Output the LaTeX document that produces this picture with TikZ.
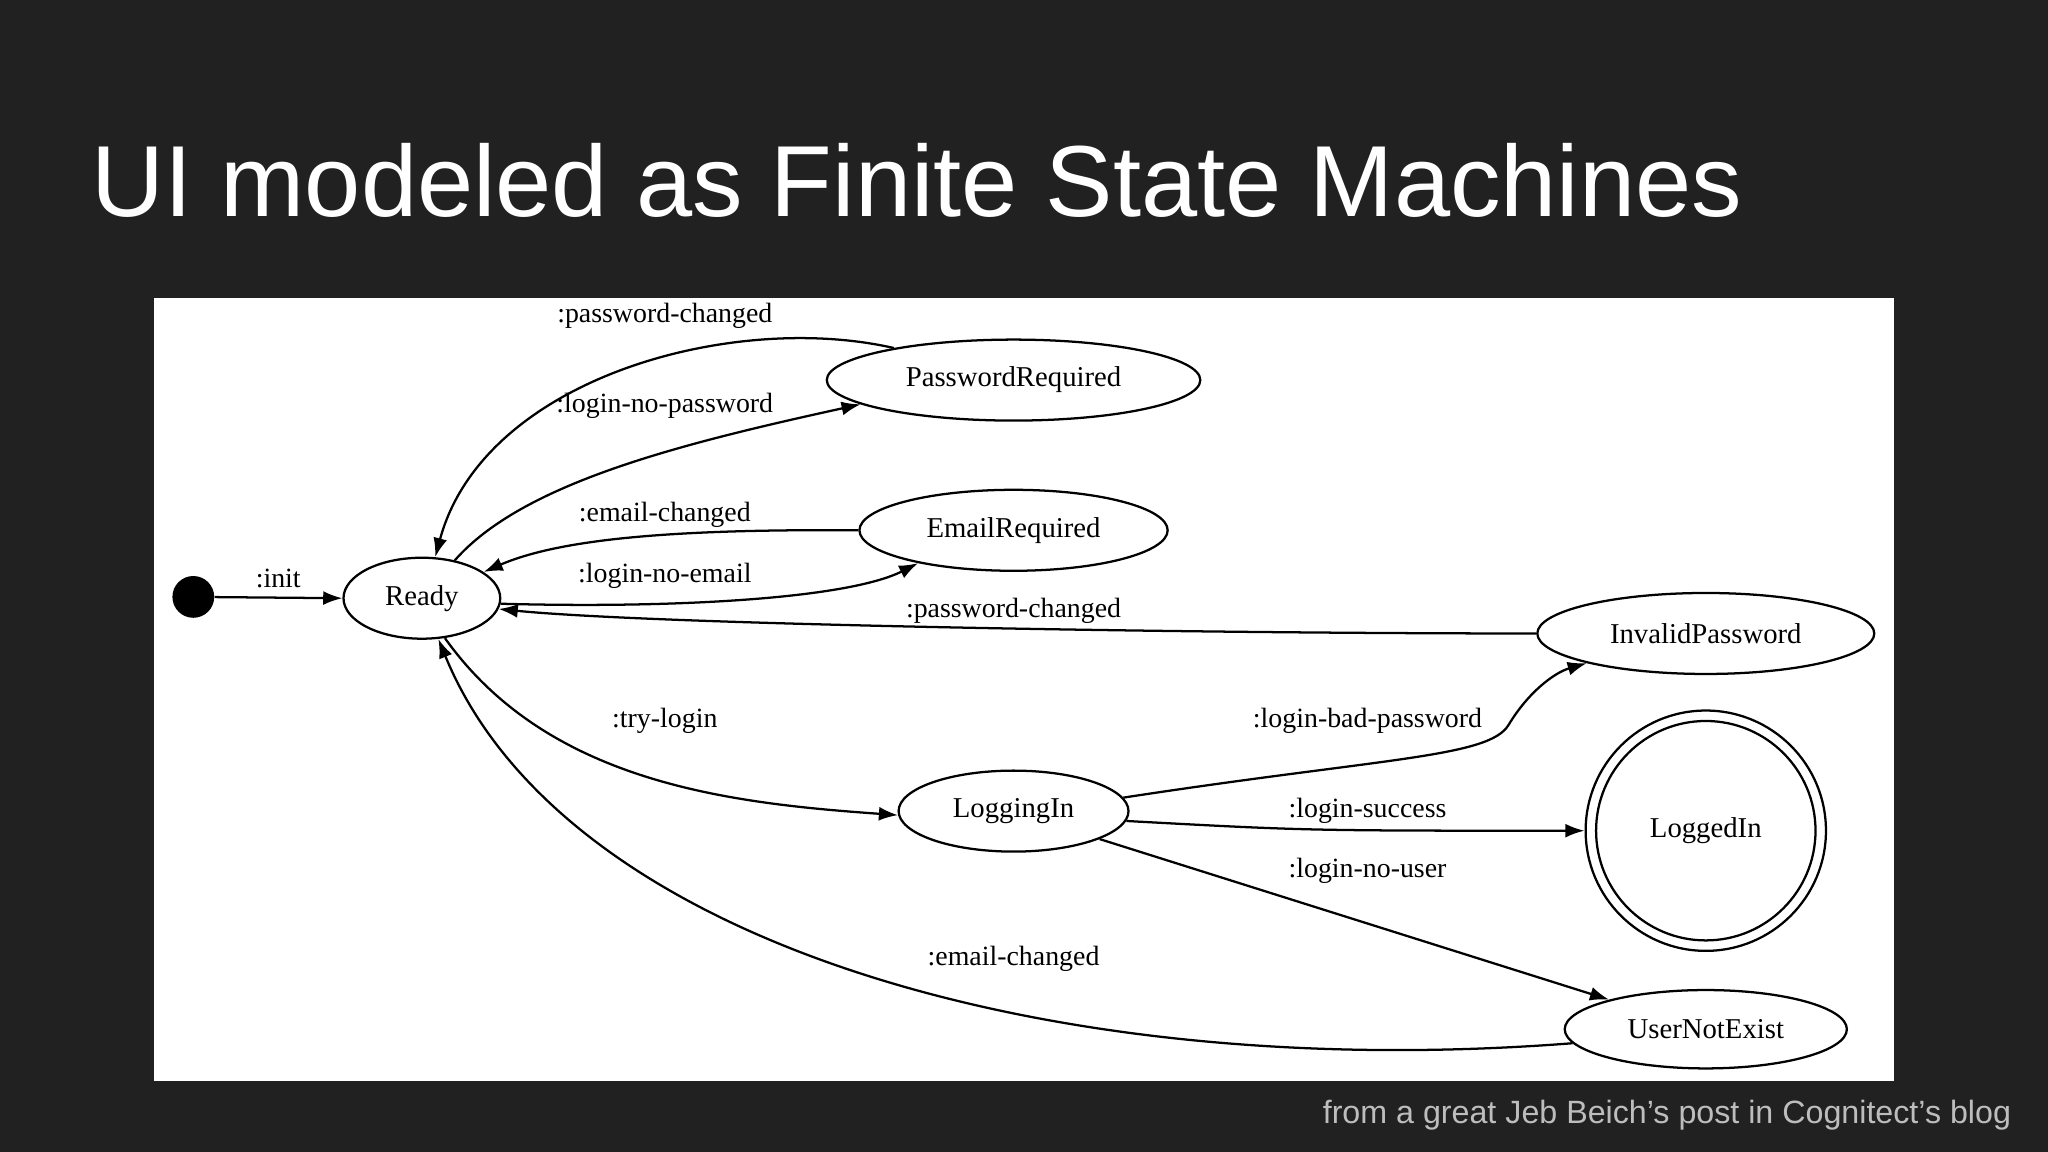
\documentclass[tikz,border=0pt]{standalone}
\usepackage{fontspec}
\setmainfont{Liberation Serif}
\newfontfamily\slidefont{Liberation Sans}
\usetikzlibrary{shapes.geometric,arrows.meta}
\definecolor{bg}{HTML}{212121}
\definecolor{foot}{HTML}{BDBDBD}
\begin{document}
\begin{tikzpicture}[x=0.75pt,y=-0.75pt,
  st/.style={draw,ellipse,line width=1.3pt,inner sep=0,font=\fontsize{16.5}{18}\selectfont},
  lbl/.style={font=\fontsize{16}{18}\selectfont,inner sep=1pt},
  tr/.style={line width=1.3pt,-{Latex[length=11pt,width=8pt]}}]
\fill[bg] (0,0) rectangle (1568,882);
\useasboundingbox (0,0) rectangle (1568,882);
\fill[white] (118,228) rectangle (1450,828);
\node[anchor=base west,text=white,font=\slidefont\fontsize{58}{64}\selectfont,inner sep=0] (title) at (70,166) {UI modeled as Finite State Machines};
\node[anchor=base east,text=foot,font=\slidefont\fontsize{18.5}{20}\selectfont,inner sep=0] (foot) at (1540,860) {from a great Jeb Beich’s post in Cognitect’s blog};

\node[circle,fill=black,minimum size=24pt,inner sep=0] (init) at (148,457) {};
\node[st,minimum width=90pt,minimum height=46.5pt] (ready) at (323,458) {Ready};
\node[st,minimum width=214.5pt,minimum height=46.5pt] (pr) at (776,291) {PasswordRequired};
\node[st,minimum width=177pt,minimum height=46.5pt] (er) at (776,406) {EmailRequired};
\node[st,minimum width=193.5pt,minimum height=46.5pt] (ip) at (1306,485) {InvalidPassword};
\node[st,minimum width=132pt,minimum height=46.5pt] (li) at (776,621) {LoggingIn};
\node[st,circle,minimum size=138pt] (ld) at (1306,636) {};
\node[st,circle,minimum size=126pt] (ldin) at (1306,636) {LoggedIn};
\node[st,minimum width=162pt,minimum height=45pt] (une) at (1306,788) {UserNotExist};

\draw[tr] (init) -- (ready.west);
\node[lbl] (l1) at (213,443) {:init};
\draw[tr] (pr.165) .. controls (560,238) and (370,290) .. (ready.72);
\node[lbl] (l2) at (509,242) {:password-changed};
\draw[tr] (ready.49) .. controls (400,370) and (520,340) .. (pr.189);
\node[lbl] (l3) at (509,311) {:login-no-password};
\draw[tr] (er.180) .. controls (520,405) and (430,412) .. (ready.23);
\node[lbl] (l4) at (509,394) {:email-changed};
\draw[tr] (ready.-4) .. controls (520,466) and (650,458) .. (er.199);
\node[lbl] (l5) at (509,441) {:login-no-email};
\draw[tr] (ip.180) .. controls (900,485) and (500,478) .. (ready.-8);
\node[lbl] (l6) at (776,468) {:password-changed};
\draw[tr] (ready.-60) .. controls (420,600) and (560,615) .. (li.182);
\node[lbl] (l7) at (509,552) {:try-login};
\draw[tr] (li.7) .. controls (1060,580) and (1140,580) .. (1155,555) .. controls (1170,530) and (1190,515) .. (ip.194);
\node[lbl] (l8) at (1047,552) {:login-bad-password};
\draw[tr] (li.-5) .. controls (1000,636) .. (ld.west);
\node[lbl] (l9) at (1047,621) {:login-success};
\draw[tr] (li.-18) -- (une.163);
\node[lbl] (l10) at (1047,667) {:login-no-user};
\draw[tr] (une.186) .. controls (800,830) and (430,720) .. (ready.-68);
\node[lbl] (l11) at (776,734) {:email-changed};
\end{tikzpicture}
\end{document}
